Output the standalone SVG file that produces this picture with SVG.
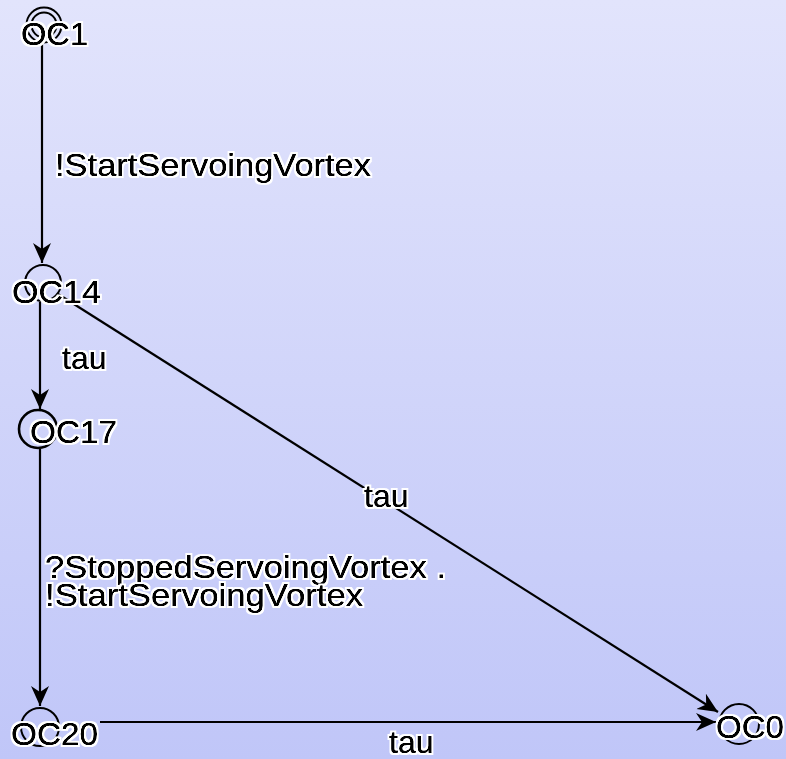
<svg xmlns="http://www.w3.org/2000/svg" width="786" height="759" viewBox="0 0 786 759">
  <defs>
    <linearGradient id="bg" x1="0" y1="0" x2="0" y2="1">
      <stop offset="0" stop-color="#e2e4fc"/>
      <stop offset="1" stop-color="#c0c6f8"/>
    </linearGradient>
    <marker id="arrow" markerUnits="userSpaceOnUse" markerWidth="22" markerHeight="20" refX="20" refY="9" orient="auto">
      <path d="M0,0 L20,9 L0,18 L6,9 Z" fill="#000"/>
    </marker>
    <!-- white halo behind slightly thickened glyphs -->
    <filter id="halo" x="-10%" y="-30%" width="120%" height="160%">
      <feMorphology in="SourceAlpha" operator="dilate" radius="2.4" result="wide"/>
      <feFlood flood-color="#fff"/>
      <feComposite operator="in" in2="wide" result="white"/>
      <feGaussianBlur in="SourceAlpha" stdDeviation="0.45"/>
      <feComponentTransfer result="bold">
        <feFuncA type="linear" slope="1.7" intercept="0"/>
      </feComponentTransfer>
      <feFlood flood-color="#000"/>
      <feComposite operator="in" in2="bold" result="ink"/>
      <feMerge>
        <feMergeNode in="white"/>
        <feMergeNode in="ink"/>
        <feMergeNode in="SourceGraphic"/>
      </feMerge>
    </filter>
    <style>
      .state { fill: none; stroke: #000; stroke-width: 2; }
      .edge { fill: none; stroke: #000; stroke-width: 2.2; marker-end: url(#arrow); }
      text { font-family: "Liberation Sans", Arial, Helvetica, sans-serif; font-size: 32px; fill: #000;
             filter: url(#halo); }
    </style>
  </defs>

  <rect x="0" y="0" width="786" height="759" fill="url(#bg)"/>

  <!-- transitions -->
  <g id="edges">
    <line class="edge" x1="42" y1="44" x2="42" y2="263"/>
    <line class="edge" x1="40" y1="302" x2="40" y2="409"/>
    <line class="edge" x1="58" y1="294" x2="718" y2="712"/>
    <line class="edge" x1="40" y1="449" x2="40" y2="706"/>
    <line class="edge" x1="100" y1="722" x2="716" y2="722"/>
    <text x="55" y="176" textLength="316" lengthAdjust="spacingAndGlyphs">!StartServoingVortex</text>
    <text x="62" y="369">tau</text>
    <text x="364" y="507">tau</text>
    <text x="45" y="578" textLength="401" lengthAdjust="spacingAndGlyphs">?StoppedServoingVortex .</text>
    <text x="45" y="606" textLength="318" lengthAdjust="spacingAndGlyphs">!StartServoingVortex</text>
    <text x="389" y="753">tau</text>
  </g>

  <!-- states -->
  <g id="OC1">
    <circle class="state" cx="44" cy="25" r="17.5"/>
    <circle class="state" cx="44" cy="25" r="12.5"/>
    <text x="21" y="45" textLength="67" lengthAdjust="spacingAndGlyphs">OC1</text>
  </g>
  <g id="OC14">
    <circle class="state" cx="43" cy="283" r="18"/>
    <text x="12" y="303" textLength="89" lengthAdjust="spacingAndGlyphs">OC14</text>
  </g>
  <g id="OC17">
    <circle class="state" cx="38" cy="429" r="19" style="stroke-width:2.6"/>
    <text x="30" y="443" textLength="87" lengthAdjust="spacingAndGlyphs">OC17</text>
  </g>
  <g id="OC20">
    <circle class="state" cx="40" cy="727" r="19"/>
    <text x="11" y="745" textLength="87" lengthAdjust="spacingAndGlyphs">OC20</text>
  </g>
  <g id="OC0">
    <circle class="state" cx="739" cy="724" r="20"/>
    <text x="716" y="738" textLength="68" lengthAdjust="spacingAndGlyphs">OC0</text>
  </g>
</svg>
